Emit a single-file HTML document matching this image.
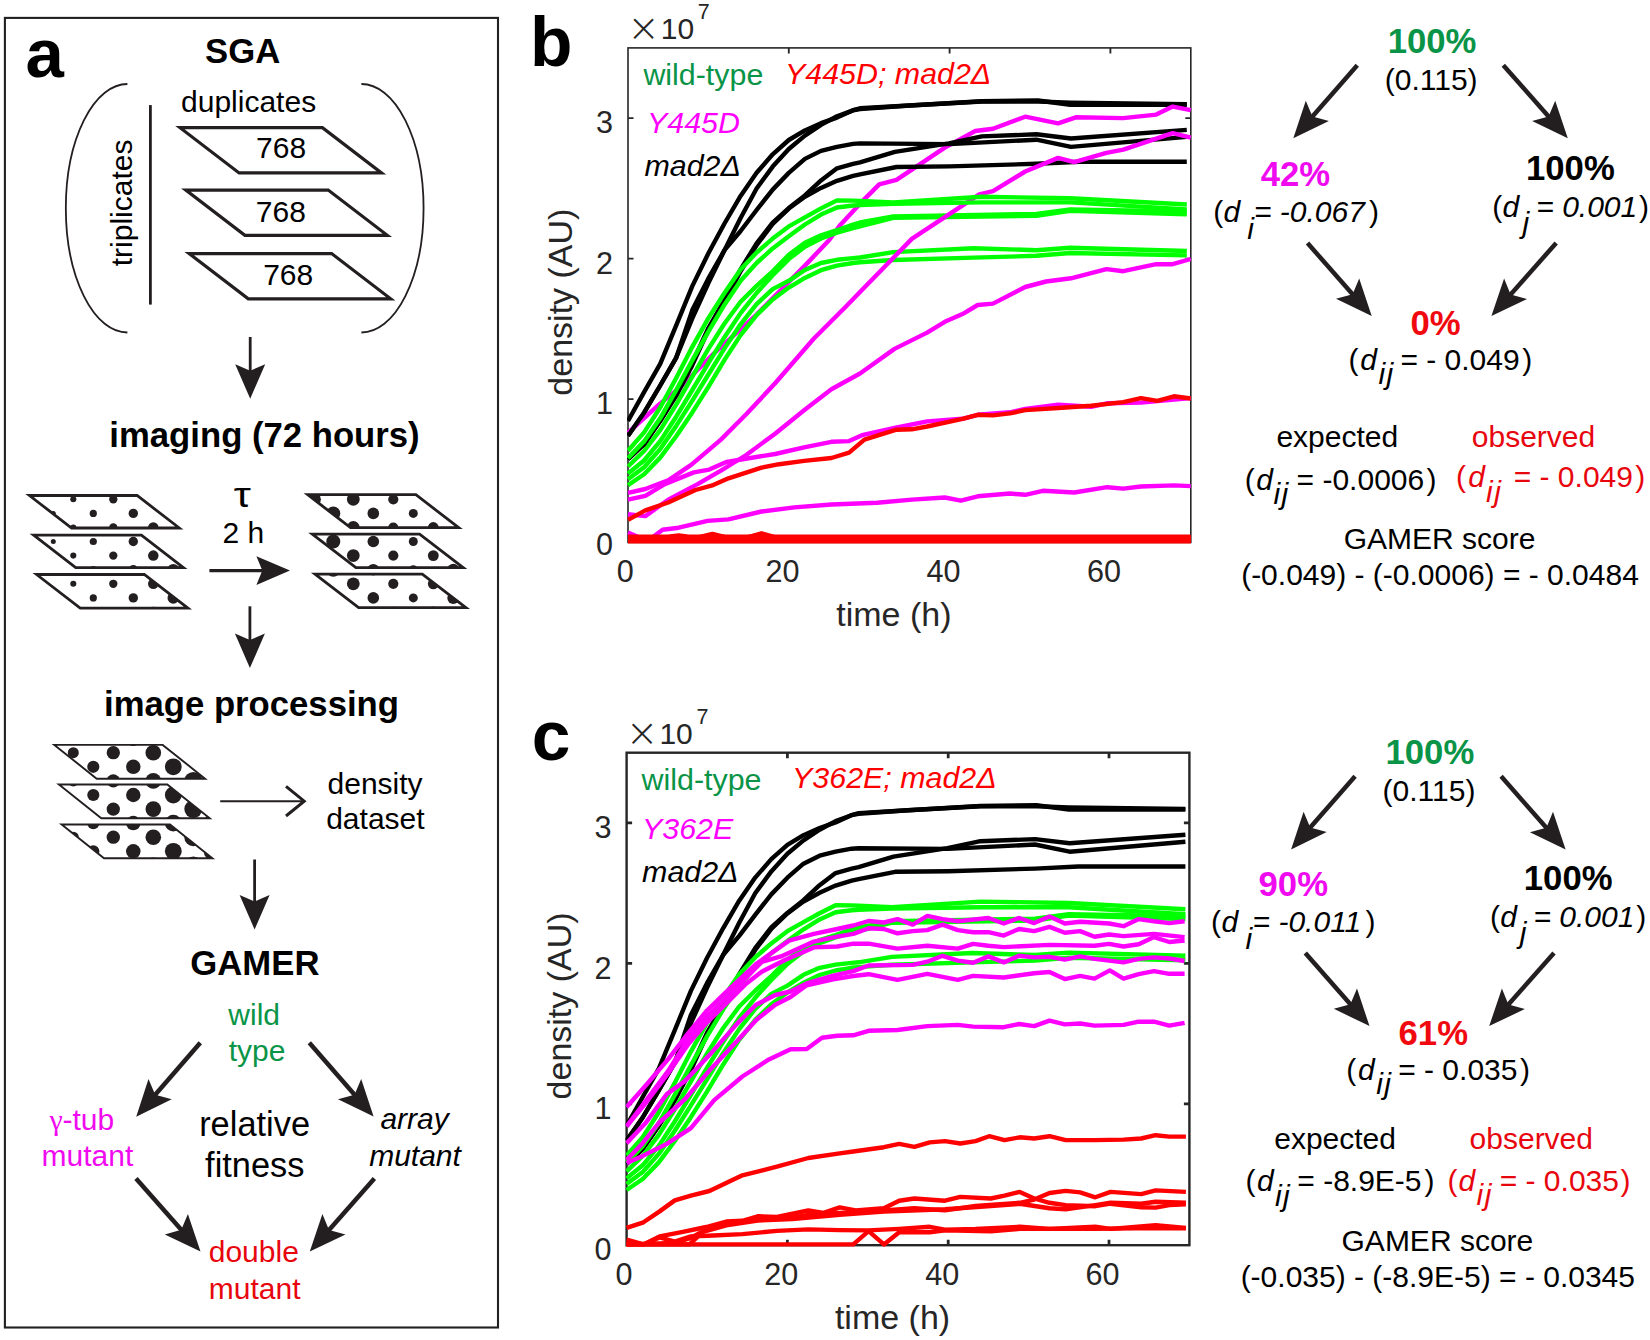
<!DOCTYPE html>
<html lang="en"><head><meta charset="utf-8"><title>GAMER figure</title>
<style>html,body{margin:0;padding:0;background:#fff}svg{display:block}text{font-family:"Liberation Sans",Arial,Helvetica,sans-serif}</style></head>
<body>
<svg width="1650" height="1340" viewBox="0 0 1650 1340">
<rect width="1650" height="1340" fill="#fff"/>
<g id="panel-a">
<rect x="4.9" y="17.9" width="493.1" height="1309.6" fill="none" stroke="#222021" stroke-width="2.1"/>
<text x="25.4" y="76.6" font-size="69" fill="#000" font-weight="bold" >a</text>
<text x="242.7" y="63.1" font-size="34.7" fill="#000" font-weight="bold" text-anchor="middle" >SGA</text>
<path d="M127.4 84 A61.6 124.25 0 0 0 127.4 332.5" fill="none" stroke="#231f20" stroke-width="1.8"/>
<path d="M361.4 84 A62.2 124.25 0 0 1 361.4 332.5" fill="none" stroke="#231f20" stroke-width="1.8"/>
<line x1="150.4" y1="105.1" x2="150.4" y2="304.6" stroke="#231f20" stroke-width="2.8"/>
<text x="248.6" y="112.3" font-size="30" fill="#000" text-anchor="middle" >duplicates</text>
<text transform="translate(131.7 202.9) rotate(-90)" font-size="30" text-anchor="middle">triplicates</text>
<path d="M180.0 127.7h142.4l59.1 45.2h-142.4z" fill="#fff" stroke="#231f20" stroke-width="3.2" stroke-linejoin="miter"/>
<text x="281.1" y="158.1" font-size="30" fill="#000" text-anchor="middle" >768</text>
<path d="M185.8 190.1h142.4l59.1 45.2h-142.4z" fill="#fff" stroke="#231f20" stroke-width="3.2" stroke-linejoin="miter"/>
<text x="280.9" y="221.5" font-size="30" fill="#000" text-anchor="middle" >768</text>
<path d="M189.2 253.6h142.4l59.1 45.2h-142.4z" fill="#fff" stroke="#231f20" stroke-width="3.2" stroke-linejoin="miter"/>
<text x="288.2" y="285.4" font-size="30" fill="#000" text-anchor="middle" >768</text>
<line x1="250.2" y1="337.0" x2="250.2" y2="372.7" stroke="#231f20" stroke-width="2.8"/>
<path d="M250.2 398.7L235.2 364.2L250.2 370.7L265.2 364.2Z" fill="#231f20"/>
<text x="264.5" y="447.0" font-size="34.7" fill="#000" font-weight="bold" text-anchor="middle" >imaging (72 hours)</text>
<clipPath id="pl0"><path d="M29.4 495.5h107.7l42.2 32.5h-107.7z"/></clipPath>
<path d="M29.4 495.5h107.7l42.2 32.5h-107.7z" fill="#fff"/>
<g clip-path="url(#pl0)" fill="#231f20">
<circle cx="53.3" cy="485.2" r="2.50"/>
<circle cx="93.3" cy="485.2" r="3.60"/>
<circle cx="133.3" cy="485.2" r="4.70"/>
<circle cx="173.3" cy="485.2" r="5.80"/>
<circle cx="33.3" cy="499.3" r="1.95"/>
<circle cx="73.3" cy="499.3" r="3.05"/>
<circle cx="113.3" cy="499.3" r="4.15"/>
<circle cx="153.3" cy="499.3" r="5.25"/>
<circle cx="53.3" cy="513.4" r="2.50"/>
<circle cx="93.3" cy="513.4" r="3.60"/>
<circle cx="133.3" cy="513.4" r="4.70"/>
<circle cx="173.3" cy="513.4" r="5.80"/>
<circle cx="33.3" cy="527.5" r="1.95"/>
<circle cx="73.3" cy="527.5" r="3.05"/>
<circle cx="113.3" cy="527.5" r="4.15"/>
<circle cx="153.3" cy="527.5" r="5.25"/>
</g>
<path d="M29.4 495.5h107.7l42.2 32.5h-107.7z" fill="none" stroke="#231f20" stroke-width="2.8"/>
<clipPath id="pl1"><path d="M33.7 535.2h107.7l42.0 32.4h-107.7z"/></clipPath>
<path d="M33.7 535.2h107.7l42.0 32.4h-107.7z" fill="#fff"/>
<g clip-path="url(#pl1)" fill="#231f20">
<circle cx="53.3" cy="513.4" r="2.50"/>
<circle cx="93.3" cy="513.4" r="3.60"/>
<circle cx="133.3" cy="513.4" r="4.70"/>
<circle cx="173.3" cy="513.4" r="5.80"/>
<circle cx="33.3" cy="527.5" r="1.95"/>
<circle cx="73.3" cy="527.5" r="3.05"/>
<circle cx="113.3" cy="527.5" r="4.15"/>
<circle cx="153.3" cy="527.5" r="5.25"/>
<circle cx="193.3" cy="527.5" r="6.35"/>
<circle cx="53.3" cy="541.5" r="2.50"/>
<circle cx="93.3" cy="541.5" r="3.60"/>
<circle cx="133.3" cy="541.5" r="4.70"/>
<circle cx="173.3" cy="541.5" r="5.80"/>
<circle cx="33.3" cy="555.6" r="1.95"/>
<circle cx="73.3" cy="555.6" r="3.05"/>
<circle cx="113.3" cy="555.6" r="4.15"/>
<circle cx="153.3" cy="555.6" r="5.25"/>
<circle cx="193.3" cy="555.6" r="6.35"/>
<circle cx="53.3" cy="569.7" r="2.50"/>
<circle cx="93.3" cy="569.7" r="3.60"/>
<circle cx="133.3" cy="569.7" r="4.70"/>
<circle cx="173.3" cy="569.7" r="5.80"/>
</g>
<path d="M33.7 535.2h107.7l42.0 32.4h-107.7z" fill="none" stroke="#231f20" stroke-width="2.8"/>
<clipPath id="pl2"><path d="M36.6 574.5h107.7l43.6 33.6h-107.7z"/></clipPath>
<path d="M36.6 574.5h107.7l43.6 33.6h-107.7z" fill="#fff"/>
<g clip-path="url(#pl2)" fill="#231f20">
<circle cx="33.3" cy="555.6" r="1.95"/>
<circle cx="73.3" cy="555.6" r="3.05"/>
<circle cx="113.3" cy="555.6" r="4.15"/>
<circle cx="153.3" cy="555.6" r="5.25"/>
<circle cx="193.3" cy="555.6" r="6.35"/>
<circle cx="53.3" cy="569.7" r="2.50"/>
<circle cx="93.3" cy="569.7" r="3.60"/>
<circle cx="133.3" cy="569.7" r="4.70"/>
<circle cx="173.3" cy="569.7" r="5.80"/>
<circle cx="33.3" cy="583.8" r="1.95"/>
<circle cx="73.3" cy="583.8" r="3.05"/>
<circle cx="113.3" cy="583.8" r="4.15"/>
<circle cx="153.3" cy="583.8" r="5.25"/>
<circle cx="193.3" cy="583.8" r="6.35"/>
<circle cx="53.3" cy="597.9" r="2.50"/>
<circle cx="93.3" cy="597.9" r="3.60"/>
<circle cx="133.3" cy="597.9" r="4.70"/>
<circle cx="173.3" cy="597.9" r="5.80"/>
<circle cx="33.3" cy="611.9" r="1.95"/>
<circle cx="73.3" cy="611.9" r="3.05"/>
<circle cx="113.3" cy="611.9" r="4.15"/>
<circle cx="153.3" cy="611.9" r="5.25"/>
<circle cx="193.3" cy="611.9" r="6.35"/>
</g>
<path d="M36.6 574.5h107.7l43.6 33.6h-107.7z" fill="none" stroke="#231f20" stroke-width="2.8"/>
<clipPath id="pr0"><path d="M307.7 494.7h108.2l42.8 33.0h-108.2z"/></clipPath>
<path d="M307.7 494.7h108.2l42.8 33.0h-108.2z" fill="#fff"/>
<g clip-path="url(#pr0)" fill="#231f20">
<circle cx="333.3" cy="485.2" r="6.99"/>
<circle cx="373.3" cy="485.2" r="5.79"/>
<circle cx="413.3" cy="485.2" r="4.51"/>
<circle cx="453.3" cy="485.2" r="6.01"/>
<circle cx="313.3" cy="499.3" r="7.59"/>
<circle cx="353.3" cy="499.3" r="6.39"/>
<circle cx="393.3" cy="499.3" r="5.09"/>
<circle cx="433.3" cy="499.3" r="5.41"/>
<circle cx="333.3" cy="513.4" r="6.99"/>
<circle cx="373.3" cy="513.4" r="5.79"/>
<circle cx="413.3" cy="513.4" r="4.51"/>
<circle cx="453.3" cy="513.4" r="6.01"/>
<circle cx="313.3" cy="527.5" r="7.59"/>
<circle cx="353.3" cy="527.5" r="6.39"/>
<circle cx="393.3" cy="527.5" r="5.09"/>
<circle cx="433.3" cy="527.5" r="5.41"/>
</g>
<path d="M307.7 494.7h108.2l42.8 33.0h-108.2z" fill="none" stroke="#231f20" stroke-width="2.8"/>
<clipPath id="pr1"><path d="M312.3 534.1h107.3l43.6 33.6h-107.3z"/></clipPath>
<path d="M312.3 534.1h107.3l43.6 33.6h-107.3z" fill="#fff"/>
<g clip-path="url(#pr1)" fill="#231f20">
<circle cx="333.3" cy="513.4" r="6.99"/>
<circle cx="373.3" cy="513.4" r="5.79"/>
<circle cx="413.3" cy="513.4" r="4.51"/>
<circle cx="453.3" cy="513.4" r="6.01"/>
<circle cx="313.3" cy="527.5" r="7.59"/>
<circle cx="353.3" cy="527.5" r="6.39"/>
<circle cx="393.3" cy="527.5" r="5.09"/>
<circle cx="433.3" cy="527.5" r="5.41"/>
<circle cx="473.3" cy="527.5" r="6.60"/>
<circle cx="333.3" cy="541.5" r="6.99"/>
<circle cx="373.3" cy="541.5" r="5.79"/>
<circle cx="413.3" cy="541.5" r="4.51"/>
<circle cx="453.3" cy="541.5" r="6.01"/>
<circle cx="313.3" cy="555.6" r="7.59"/>
<circle cx="353.3" cy="555.6" r="6.39"/>
<circle cx="393.3" cy="555.6" r="5.09"/>
<circle cx="433.3" cy="555.6" r="5.41"/>
<circle cx="473.3" cy="555.6" r="6.60"/>
<circle cx="333.3" cy="569.7" r="6.99"/>
<circle cx="373.3" cy="569.7" r="5.79"/>
<circle cx="413.3" cy="569.7" r="4.51"/>
<circle cx="453.3" cy="569.7" r="6.01"/>
</g>
<path d="M312.3 534.1h107.3l43.6 33.6h-107.3z" fill="none" stroke="#231f20" stroke-width="2.8"/>
<clipPath id="pr2"><path d="M315.0 574.1h107.3l43.6 33.6h-107.3z"/></clipPath>
<path d="M315.0 574.1h107.3l43.6 33.6h-107.3z" fill="#fff"/>
<g clip-path="url(#pr2)" fill="#231f20">
<circle cx="313.3" cy="555.6" r="7.59"/>
<circle cx="353.3" cy="555.6" r="6.39"/>
<circle cx="393.3" cy="555.6" r="5.09"/>
<circle cx="433.3" cy="555.6" r="5.41"/>
<circle cx="473.3" cy="555.6" r="6.60"/>
<circle cx="333.3" cy="569.7" r="6.99"/>
<circle cx="373.3" cy="569.7" r="5.79"/>
<circle cx="413.3" cy="569.7" r="4.51"/>
<circle cx="453.3" cy="569.7" r="6.01"/>
<circle cx="313.3" cy="583.8" r="7.59"/>
<circle cx="353.3" cy="583.8" r="6.39"/>
<circle cx="393.3" cy="583.8" r="5.09"/>
<circle cx="433.3" cy="583.8" r="5.41"/>
<circle cx="473.3" cy="583.8" r="6.60"/>
<circle cx="333.3" cy="597.9" r="6.99"/>
<circle cx="373.3" cy="597.9" r="5.79"/>
<circle cx="413.3" cy="597.9" r="4.51"/>
<circle cx="453.3" cy="597.9" r="6.01"/>
<circle cx="313.3" cy="611.9" r="7.59"/>
<circle cx="353.3" cy="611.9" r="6.39"/>
<circle cx="393.3" cy="611.9" r="5.09"/>
<circle cx="433.3" cy="611.9" r="5.41"/>
<circle cx="473.3" cy="611.9" r="6.60"/>
</g>
<path d="M315.0 574.1h107.3l43.6 33.6h-107.3z" fill="none" stroke="#231f20" stroke-width="2.8"/>
<text transform="translate(242.3 506.8) scale(1.2 1)" font-size="36" text-anchor="middle" font-family="'Liberation Serif','DejaVu Serif',serif">τ</text>
<text x="243.4" y="543.3" font-size="30" fill="#000" text-anchor="middle" >2 h</text>
<line x1="209.4" y1="570.6" x2="264.3" y2="570.6" stroke="#231f20" stroke-width="3.4"/>
<path d="M290.0 570.6L256.4 584.9L262.3 570.6L256.4 556.3Z" fill="#231f20"/>
<line x1="249.9" y1="606.3" x2="249.9" y2="642.1" stroke="#231f20" stroke-width="2.8"/>
<path d="M249.9 668.1L234.9 633.6L249.9 640.1L264.9 633.6Z" fill="#231f20"/>
<text x="251.5" y="716.0" font-size="34.7" fill="#000" font-weight="bold" text-anchor="middle" >image processing</text>
<clipPath id="pt0"><path d="M54.3 744.9h108.4l42.4 33.8h-108.4z"/></clipPath>
<path d="M54.3 744.9h108.4l42.4 33.8h-108.4z" fill="#fff"/>
<g clip-path="url(#pt0)" fill="#231f20">
<circle cx="73.3" cy="724.6" r="5.50"/>
<circle cx="113.3" cy="724.6" r="6.66"/>
<circle cx="153.3" cy="724.6" r="7.82"/>
<circle cx="193.3" cy="724.6" r="8.98"/>
<circle cx="53.3" cy="738.7" r="4.92"/>
<circle cx="93.3" cy="738.7" r="6.08"/>
<circle cx="133.3" cy="738.7" r="7.24"/>
<circle cx="173.3" cy="738.7" r="8.40"/>
<circle cx="213.3" cy="738.7" r="9.56"/>
<circle cx="73.3" cy="752.7" r="5.50"/>
<circle cx="113.3" cy="752.7" r="6.66"/>
<circle cx="153.3" cy="752.7" r="7.82"/>
<circle cx="193.3" cy="752.7" r="8.98"/>
<circle cx="53.3" cy="766.8" r="4.92"/>
<circle cx="93.3" cy="766.8" r="6.08"/>
<circle cx="133.3" cy="766.8" r="7.24"/>
<circle cx="173.3" cy="766.8" r="8.40"/>
<circle cx="213.3" cy="766.8" r="9.56"/>
<circle cx="73.3" cy="780.9" r="5.50"/>
<circle cx="113.3" cy="780.9" r="6.66"/>
<circle cx="153.3" cy="780.9" r="7.82"/>
<circle cx="193.3" cy="780.9" r="8.98"/>
</g>
<path d="M54.3 744.9h108.4l42.4 33.8h-108.4z" fill="none" stroke="#231f20" stroke-width="1.9"/>
<clipPath id="pt1"><path d="M58.9 784.5h108.4l42.4 33.8h-108.4z"/></clipPath>
<path d="M58.9 784.5h108.4l42.4 33.8h-108.4z" fill="#fff"/>
<g clip-path="url(#pt1)" fill="#231f20">
<circle cx="53.3" cy="766.8" r="4.92"/>
<circle cx="93.3" cy="766.8" r="6.08"/>
<circle cx="133.3" cy="766.8" r="7.24"/>
<circle cx="173.3" cy="766.8" r="8.40"/>
<circle cx="213.3" cy="766.8" r="9.56"/>
<circle cx="73.3" cy="780.9" r="5.50"/>
<circle cx="113.3" cy="780.9" r="6.66"/>
<circle cx="153.3" cy="780.9" r="7.82"/>
<circle cx="193.3" cy="780.9" r="8.98"/>
<circle cx="53.3" cy="795.0" r="4.92"/>
<circle cx="93.3" cy="795.0" r="6.08"/>
<circle cx="133.3" cy="795.0" r="7.24"/>
<circle cx="173.3" cy="795.0" r="8.40"/>
<circle cx="213.3" cy="795.0" r="9.56"/>
<circle cx="73.3" cy="809.1" r="5.50"/>
<circle cx="113.3" cy="809.1" r="6.66"/>
<circle cx="153.3" cy="809.1" r="7.82"/>
<circle cx="193.3" cy="809.1" r="8.98"/>
<circle cx="53.3" cy="823.1" r="4.92"/>
<circle cx="93.3" cy="823.1" r="6.08"/>
<circle cx="133.3" cy="823.1" r="7.24"/>
<circle cx="173.3" cy="823.1" r="8.40"/>
<circle cx="213.3" cy="823.1" r="9.56"/>
</g>
<path d="M58.9 784.5h108.4l42.4 33.8h-108.4z" fill="none" stroke="#231f20" stroke-width="1.9"/>
<clipPath id="pt2"><path d="M61.6 824.5h108.4l42.4 33.8h-108.4z"/></clipPath>
<path d="M61.6 824.5h108.4l42.4 33.8h-108.4z" fill="#fff"/>
<g clip-path="url(#pt2)" fill="#231f20">
<circle cx="73.3" cy="809.1" r="5.50"/>
<circle cx="113.3" cy="809.1" r="6.66"/>
<circle cx="153.3" cy="809.1" r="7.82"/>
<circle cx="193.3" cy="809.1" r="8.98"/>
<circle cx="53.3" cy="823.1" r="4.92"/>
<circle cx="93.3" cy="823.1" r="6.08"/>
<circle cx="133.3" cy="823.1" r="7.24"/>
<circle cx="173.3" cy="823.1" r="8.40"/>
<circle cx="213.3" cy="823.1" r="9.56"/>
<circle cx="73.3" cy="837.2" r="5.50"/>
<circle cx="113.3" cy="837.2" r="6.66"/>
<circle cx="153.3" cy="837.2" r="7.82"/>
<circle cx="193.3" cy="837.2" r="8.98"/>
<circle cx="53.3" cy="851.3" r="4.92"/>
<circle cx="93.3" cy="851.3" r="6.08"/>
<circle cx="133.3" cy="851.3" r="7.24"/>
<circle cx="173.3" cy="851.3" r="8.40"/>
<circle cx="213.3" cy="851.3" r="9.56"/>
<circle cx="73.3" cy="865.4" r="5.50"/>
<circle cx="113.3" cy="865.4" r="6.66"/>
<circle cx="153.3" cy="865.4" r="7.82"/>
<circle cx="193.3" cy="865.4" r="8.98"/>
</g>
<path d="M61.6 824.5h108.4l42.4 33.8h-108.4z" fill="none" stroke="#231f20" stroke-width="1.9"/>
<line x1="220.2" y1="801.2" x2="302.5" y2="801.2" stroke="#231f20" stroke-width="2.1"/>
<path d="M286 786.4 L304.2 801.2 L286 816" fill="none" stroke="#231f20" stroke-width="3"/>
<text x="375.1" y="793.9" font-size="30" fill="#000" text-anchor="middle" >density</text>
<text x="375.4" y="828.9" font-size="30" fill="#000" text-anchor="middle" >dataset</text>
<line x1="254.6" y1="859.5" x2="254.6" y2="903.4" stroke="#231f20" stroke-width="2.8"/>
<path d="M254.6 929.4L239.6 894.9L254.6 901.4L269.6 894.9Z" fill="#231f20"/>
<text x="254.9" y="975.0" font-size="34.7" fill="#000" font-weight="bold" text-anchor="middle" >GAMER</text>
<text x="254.2" y="1024.5" font-size="30" fill="#0a9447" text-anchor="middle" >wild</text>
<text x="257.0" y="1060.6" font-size="30" fill="#0a9447" text-anchor="middle" >type</text>
<text x="49.6" y="1129.7" font-size="30" fill="#f00af0"><tspan font-family="'Liberation Serif',serif" font-size="30">γ</tspan><tspan x="62.4">-tub</tspan></text>
<text x="87.4" y="1166.0" font-size="30" fill="#f00af0" text-anchor="middle" >mutant</text>
<text x="254.6" y="1136.3" font-size="34.4" fill="#000" text-anchor="middle" >relative</text>
<text x="254.8" y="1176.5" font-size="34.4" fill="#000" text-anchor="middle" >fitness</text>
<text x="414.6" y="1128.8" font-size="30" fill="#000" font-style="italic" text-anchor="middle" >array</text>
<text x="415.0" y="1165.5" font-size="30" fill="#000" font-style="italic" text-anchor="middle" >mutant</text>
<text x="253.8" y="1261.5" font-size="30" fill="#e8060e" text-anchor="middle" >double</text>
<text x="254.7" y="1298.5" font-size="30" fill="#e8060e" text-anchor="middle" >mutant</text>
<line x1="200.3" y1="1042.8" x2="153.9" y2="1096.3" stroke="#231f20" stroke-width="4.5"/>
<path d="M136.2 1116.7L148.5 1079.0L155.2 1094.8L171.7 1099.2Z" fill="#231f20"/>
<line x1="309.3" y1="1042.8" x2="355.9" y2="1096.2" stroke="#231f20" stroke-width="4.5"/>
<path d="M373.6 1116.6L338.0 1099.2L354.5 1094.7L361.2 1079.0Z" fill="#231f20"/>
<line x1="136.0" y1="1178.4" x2="182.6" y2="1231.3" stroke="#231f20" stroke-width="4.5"/>
<path d="M200.5 1251.6L164.8 1234.4L181.3 1229.8L187.9 1214.0Z" fill="#231f20"/>
<line x1="374.4" y1="1178.4" x2="327.7" y2="1231.4" stroke="#231f20" stroke-width="4.5"/>
<path d="M309.8 1251.6L322.4 1214.0L329.0 1229.9L345.5 1234.4Z" fill="#231f20"/>
</g>
<g id="chart-b">
<clipPath id="chart-bc"><rect x="627.0" y="47.9" width="564.8" height="497.5"/></clipPath>
<rect x="628.0" y="47.9" width="562.8" height="494.5" fill="#fff" stroke="#262626" stroke-width="1.6"/>
<path d="M788.8 542.4v-5.5M788.8 47.9v5.5" stroke="#262626" stroke-width="1.84"/>
<path d="M949.6 542.4v-5.5M949.6 47.9v5.5" stroke="#262626" stroke-width="1.84"/>
<path d="M1110.4 542.4v-5.5M1110.4 47.9v5.5" stroke="#262626" stroke-width="1.84"/>
<path d="M628.0 399.1h5.5M1190.8 399.1h-5.5" stroke="#262626" stroke-width="1.84"/>
<path d="M628.0 258.6h5.5M1190.8 258.6h-5.5" stroke="#262626" stroke-width="1.84"/>
<path d="M628.0 118.1h5.5M1190.8 118.1h-5.5" stroke="#262626" stroke-width="1.84"/>
<g clip-path="url(#chart-bc)" fill="none" stroke-width="4.4" stroke-linejoin="round">
<polyline points="628.0,420.9 644.1,392.2 660.2,363.8 676.2,325.3 692.3,286.1 708.4,253.2 724.5,223.5 740.6,195.9 756.6,172.8 772.7,154.3 788.8,140.0 804.9,130.4 821.0,123.2 837.0,117.6 853.1,110.2 860.0,108.3 909.4,105.5 981.8,101.5 1038.0,101.5 1070.2,102.6 1186.8,104.1" stroke="#000000"/>
<polyline points="628.0,435.8 644.1,412.7 660.2,385.5 676.2,357.8 692.3,310.1 708.4,278.4 724.5,250.2 740.6,218.0 756.6,188.5 772.7,166.6 788.8,149.0 804.9,135.6 821.0,124.9 837.0,116.3 853.1,110.4 860.0,109.0 909.4,105.5 981.8,101.2 1038.0,100.5 1070.2,104.8 1186.8,104.8" stroke="#000000"/>
<polyline points="628.0,432.8 658.9,404.6 680.3,387.2 713.2,354.1 755.8,315.4 780.8,290.1 804.9,265.6 829.0,240.3 840.3,224.9 861.2,202.4 879.2,184.4 896.5,179.9 944.8,147.6 975.3,131.0 993.0,128.8 1025.2,116.7 1058.1,123.4 1075.8,117.3 1123.3,118.1 1156.2,114.6 1172.7,106.6 1190.8,110.2" stroke="#ff00ff"/>
<polyline points="628.0,466.5 644.1,451.0 660.2,430.1 676.2,404.6 692.3,376.6 708.4,348.9 724.5,323.5 740.6,301.7 756.6,285.9 772.7,271.4 788.8,254.8 804.9,242.7 821.0,235.3 837.0,230.2 853.1,224.5 860.0,222.5 893.3,216.5 1036.4,213.9 1070.2,209.4 1186.8,211.5" stroke="#00ff00"/>
<polyline points="628.0,473.6 644.1,460.5 660.2,441.1 676.2,416.7 692.3,390.0 708.4,363.1 724.5,337.2 740.6,313.1 756.6,293.0 772.7,275.2 788.8,259.1 804.9,246.8 821.0,238.5 837.0,232.7 853.1,228.1 860.0,226.3 893.3,217.9 1036.4,215.7 1070.2,210.8 1186.8,214.3" stroke="#00ff00"/>
<polyline points="628.0,479.2 644.1,467.3 660.2,449.1 676.2,425.9 692.3,400.6 708.4,374.5 724.5,348.4 740.6,324.3 756.6,304.1 772.7,289.1 788.8,280.8 804.9,270.0 821.0,263.0 837.0,259.8 853.1,258.1 860.0,257.5 893.3,252.1 973.7,248.2 1036.4,250.2 1070.2,247.8 1186.8,251.0" stroke="#00ff00"/>
<polyline points="628.0,485.2 644.1,474.2 660.2,457.6 676.2,436.2 692.3,412.4 708.4,386.9 724.5,359.9 740.6,335.1 756.6,315.1 772.7,299.5 788.8,287.6 804.9,277.9 821.0,270.2 837.0,265.7 853.1,263.0 860.0,262.3 893.3,260.0 973.7,257.6 1036.4,255.8 1070.2,253.0 1186.8,255.4" stroke="#00ff00"/>
<polyline points="628.0,435.8 644.1,412.7 660.2,385.5 676.2,357.7 692.3,318.4 708.4,283.0 724.5,250.2 740.6,231.0 756.6,210.0 772.7,189.6 788.8,172.9 804.9,158.9 821.0,150.9 837.0,146.8 853.1,143.9 860.0,143.4 949.6,144.1 1036.4,139.7 1071.0,146.9 1186.8,136.9" stroke="#000000"/>
<polyline points="628.0,459.1 644.1,444.1 660.2,420.5 676.2,394.8 692.3,363.0 708.4,328.0 724.5,300.2 740.6,269.3 756.6,243.3 772.7,222.6 788.8,208.1 804.9,195.4 821.0,180.4 837.0,168.3 853.1,163.9 860.0,162.4 894.9,151.8 948.8,143.4 981.8,136.4 1036.4,134.3 1071.0,138.5 1186.8,129.9" stroke="#000000"/>
<polyline points="628.0,459.1 644.1,444.2 660.2,421.1 676.2,395.6 692.3,365.2 708.4,330.0 724.5,302.2 740.6,271.3 756.6,245.2 772.7,224.0 788.8,208.6 804.9,196.8 821.0,187.9 837.0,180.8 853.1,175.9 860.0,174.3 896.5,167.0 949.6,166.4 1036.4,163.8 1079.8,161.7 1186.8,161.7" stroke="#000000"/>
<polyline points="628.0,492.8 645.3,489.0 668.2,480.3 691.5,464.7 720.9,439.6 746.2,414.3 775.1,383.2 813.7,338.7 846.7,305.7 860.0,292.0 911.8,238.9 944.8,217.2 979.3,194.3 993.0,191.2 1025.2,171.5 1058.1,157.9 1074.2,162.2 1106.4,152.8 1123.3,149.6 1172.7,133.1 1190.8,137.6" stroke="#ff00ff"/>
<polyline points="628.0,450.7 644.1,432.4 660.2,407.5 676.2,378.0 692.3,346.8 708.4,318.1 724.5,293.0 740.6,269.4 756.6,252.6 772.7,238.6 788.8,226.4 804.9,217.3 821.0,208.4 837.0,200.4 853.1,200.6 860.0,201.0 893.3,202.4 981.8,196.8 1070.2,198.2 1186.8,204.5" stroke="#00ff00"/>
<polyline points="628.0,458.1 644.1,441.4 660.2,418.3 676.2,390.1 692.3,360.4 708.4,331.6 724.5,304.7 740.6,280.7 756.6,263.0 772.7,248.4 788.8,236.2 804.9,224.5 821.0,214.6 837.0,207.5 853.1,205.5 860.0,205.1 893.3,203.8 981.8,202.4 1070.2,202.4 1186.8,209.4" stroke="#00ff00"/>
<polyline points="628.0,514.3 645.3,516.1 668.2,499.7 697.6,484.1 720.9,470.6 746.2,455.0 775.1,433.7 804.1,410.3 831.4,389.3 860.0,373.5 894.5,348.9 927.1,332.6 944.8,321.8 962.5,314.1 977.7,305.0 993.0,303.6 1025.2,287.0 1046.1,281.5 1071.0,278.3 1106.4,269.1 1123.3,271.2 1156.2,264.2 1172.7,264.2 1190.8,259.0" stroke="#ff00ff"/>
<polyline points="628.0,499.7 645.3,495.8 664.7,484.1 693.9,472.4 709.2,469.6 726.9,461.8 744.2,459.0 775.1,454.0 804.1,447.3 831.4,441.8 849.1,441.1 862.0,435.2 894.5,428.0 927.1,421.4 962.5,418.8 977.7,414.8 1009.9,412.3 1025.2,408.9 1058.1,404.7 1091.1,406.8 1108.0,403.2 1141.0,402.6 1190.8,398.1" stroke="#ff00ff"/>
<polyline points="628.0,532.6 639.3,537.5 651.3,538.2 662.6,529.8 678.7,527.7 707.6,520.9 728.5,519.4 761.5,511.5 794.4,507.4 831.4,504.5 877.2,502.8 911.8,499.6 944.8,497.5 960.9,500.7 977.7,496.3 1009.9,493.5 1025.2,494.8 1042.9,490.8 1074.2,492.5 1107.2,487.2 1123.3,488.6 1141.0,486.5 1173.9,485.4 1190.8,486.1" stroke="#ff00ff"/>
<polyline points="628.0,519.9 645.3,510.4 668.2,502.5 695.5,490.0 713.2,485.1 728.5,478.3 761.5,467.7 779.2,464.2 804.1,460.9 831.4,458.0 849.1,452.6 864.4,439.6 896.5,429.7 911.8,429.3 927.1,426.5 962.5,418.8 977.7,414.8 993.0,415.4 1009.9,413.4 1025.2,410.1 1058.1,408.0 1091.1,405.7 1123.3,402.1 1141.0,398.1 1157.4,400.9 1173.9,396.3 1190.8,398.5" stroke="#ff0000"/>
<polyline points="628.0,537.9 668.2,537.9 696.3,537.9 712.4,534.0 728.5,537.9 745.4,537.9 761.5,533.3 777.5,537.9 1190.8,537.9" stroke="#ff0000"/>
<polyline points="628.0,541.3 1190.8,541.3" stroke="#ff0000"/>
<polyline points="628.0,539.6 696.3,539.6 712.4,536.5 728.5,539.6 745.4,539.6 761.5,535.9 777.5,539.6 1190.8,539.6" stroke="#ff0000"/>
<polyline points="628.0,536.8 668.2,536.8 678.7,535.4 688.3,536.8 1190.8,536.8" stroke="#ff0000"/>
</g>
<text x="625.3" y="582.2" font-size="30.6" fill="#262626" text-anchor="middle" >0</text>
<text x="782.6" y="582.2" font-size="30.6" fill="#262626" text-anchor="middle" >20</text>
<text x="943.6" y="582.2" font-size="30.6" fill="#262626" text-anchor="middle" >40</text>
<text x="1104.0" y="582.2" font-size="30.6" fill="#262626" text-anchor="middle" >60</text>
<text x="612.9" y="554.9" font-size="30.6" fill="#262626" text-anchor="end" >0</text>
<text x="612.9" y="414.4" font-size="30.6" fill="#262626" text-anchor="end" >1</text>
<text x="612.9" y="273.9" font-size="30.6" fill="#262626" text-anchor="end" >2</text>
<text x="612.9" y="133.4" font-size="30.6" fill="#262626" text-anchor="end" >3</text>
<text font-size="30" fill="#262626"><tspan x="627.2" y="41.4" font-family="'DejaVu Sans Light','DejaVu Sans',sans-serif" font-weight="200" font-size="39">×</tspan><tspan x="660.8" y="39.3">10</tspan></text>
<text x="697.8" y="19.4" font-size="21.5" fill="#262626" >7</text>
<text x="893.9" y="625.7" font-size="34" fill="#262626" text-anchor="middle" >time (h)</text>
<text transform="translate(572.0 302.1) rotate(-90)" font-size="34" fill="#262626" text-anchor="middle">density (AU)</text>
<text x="643.4" y="84.9" font-size="30.4" fill="#0a9447" >wild-type</text>
<text x="647.0" y="132.7" font-size="30.4" fill="#ff00ff" font-style="italic" >Y445D</text>
<text x="644.5" y="176.1" font-size="30.4" fill="#000" font-style="italic" >mad2Δ</text>
<text x="785.0" y="84.3" font-size="30.4" fill="#ff0000" font-style="italic" >Y445D; mad2Δ</text>
</g>
<g id="chart-c">
<clipPath id="chart-cc"><rect x="625.6" y="752.7" width="564.8" height="495.5"/></clipPath>
<rect x="626.6" y="752.7" width="562.8" height="492.5" fill="#fff" stroke="#262626" stroke-width="2.4"/>
<path d="M787.4 1245.2v-5.5M787.4 752.7v5.5" stroke="#262626" stroke-width="2.76"/>
<path d="M948.2 1245.2v-5.5M948.2 752.7v5.5" stroke="#262626" stroke-width="2.76"/>
<path d="M1109.0 1245.2v-5.5M1109.0 752.7v5.5" stroke="#262626" stroke-width="2.76"/>
<path d="M626.6 1103.9h5.5M1189.4 1103.9h-5.5" stroke="#262626" stroke-width="2.76"/>
<path d="M626.6 963.4h5.5M1189.4 963.4h-5.5" stroke="#262626" stroke-width="2.76"/>
<path d="M626.6 822.9h5.5M1189.4 822.9h-5.5" stroke="#262626" stroke-width="2.76"/>
<g clip-path="url(#chart-cc)" fill="none" stroke-width="4.4" stroke-linejoin="round">
<polyline points="626.6,1125.7 642.7,1097.0 658.8,1068.6 674.8,1030.1 690.9,990.9 707.0,958.0 723.1,928.3 739.2,900.7 755.2,877.6 771.3,859.1 787.4,844.8 803.5,835.2 819.6,828.0 835.6,822.4 851.7,815.0 858.6,813.1 908.0,810.3 980.4,806.3 1036.6,806.3 1068.8,807.4 1185.4,808.9" stroke="#000000"/>
<polyline points="626.6,1140.6 642.7,1117.5 658.8,1090.3 674.8,1062.6 690.9,1014.9 707.0,983.2 723.1,955.0 739.2,922.8 755.2,893.3 771.3,871.4 787.4,853.8 803.5,840.4 819.6,829.7 835.6,821.1 851.7,815.2 858.6,813.8 908.0,810.3 980.4,806.0 1036.6,805.3 1068.8,809.6 1185.4,809.6" stroke="#000000"/>
<polyline points="626.6,1140.6 642.7,1117.5 658.8,1090.3 674.8,1062.5 690.9,1023.2 707.0,987.8 723.1,955.0 739.2,935.8 755.2,914.8 771.3,894.4 787.4,877.7 803.5,863.7 819.6,855.7 835.6,851.6 851.7,848.7 858.6,848.2 948.2,848.9 1035.0,844.5 1069.6,851.7 1185.4,841.7" stroke="#000000"/>
<polyline points="626.6,1163.9 642.7,1148.9 658.8,1125.3 674.8,1099.6 690.9,1067.8 707.0,1032.8 723.1,1005.0 739.2,974.1 755.2,948.1 771.3,927.4 787.4,912.9 803.5,900.2 819.6,885.2 835.6,873.1 851.7,868.7 858.6,867.2 893.5,856.6 947.4,848.2 980.4,841.2 1035.0,839.1 1069.6,843.3 1185.4,834.7" stroke="#000000"/>
<polyline points="626.6,1163.9 642.7,1149.0 658.8,1125.9 674.8,1100.4 690.9,1070.0 707.0,1034.8 723.1,1007.0 739.2,976.1 755.2,950.0 771.3,928.8 787.4,913.4 803.5,901.6 819.6,892.7 835.6,885.6 851.7,880.7 858.6,879.1 895.1,871.8 948.2,871.2 1035.0,868.6 1078.4,866.5 1185.4,866.5" stroke="#000000"/>
<polyline points="626.6,1155.5 642.7,1137.2 658.8,1112.3 674.8,1082.8 690.9,1051.6 707.0,1022.9 723.1,997.8 739.2,974.2 755.2,957.4 771.3,943.4 787.4,931.2 803.5,922.1 819.6,913.2 835.6,905.2 851.7,905.4 858.6,905.8 891.9,907.2 980.4,901.6 1068.8,903.0 1185.4,909.3" stroke="#00ff00"/>
<polyline points="626.6,1162.9 642.7,1146.2 658.8,1123.1 674.8,1094.9 690.9,1065.2 707.0,1036.4 723.1,1009.5 739.2,985.5 755.2,967.8 771.3,953.2 787.4,941.0 803.5,929.3 819.6,919.4 835.6,912.3 851.7,910.3 858.6,909.9 891.9,908.6 980.4,907.2 1068.8,907.2 1185.4,914.2" stroke="#00ff00"/>
<polyline points="626.6,1171.3 642.7,1155.8 658.8,1134.9 674.8,1109.4 690.9,1081.4 707.0,1053.7 723.1,1028.3 739.2,1006.5 755.2,990.7 771.3,976.2 787.4,959.6 803.5,947.5 819.6,940.1 835.6,935.0 851.7,929.3 858.6,927.3 891.9,921.3 1035.0,918.7 1068.8,914.2 1185.4,916.3" stroke="#00ff00"/>
<polyline points="626.6,1178.4 642.7,1165.3 658.8,1145.9 674.8,1121.5 690.9,1094.8 707.0,1067.9 723.1,1042.0 739.2,1017.9 755.2,997.8 771.3,980.0 787.4,963.9 803.5,951.6 819.6,943.3 835.6,937.5 851.7,932.9 858.6,931.1 891.9,922.7 1035.0,920.5 1068.8,915.6 1185.4,919.1" stroke="#00ff00"/>
<polyline points="626.6,1184.0 642.7,1172.1 658.8,1153.9 674.8,1130.7 690.9,1105.4 707.0,1079.3 723.1,1053.2 739.2,1029.1 755.2,1008.9 771.3,993.9 787.4,985.6 803.5,974.8 819.6,967.8 835.6,964.6 851.7,962.9 858.6,962.3 891.9,956.9 972.3,953.0 1035.0,955.0 1068.8,952.6 1185.4,955.8" stroke="#00ff00"/>
<polyline points="626.6,1190.0 642.7,1179.0 658.8,1162.4 674.8,1141.0 690.9,1117.2 707.0,1091.7 723.1,1064.7 739.2,1039.9 755.2,1019.9 771.3,1004.3 787.4,992.4 803.5,982.7 819.6,975.0 835.6,970.5 851.7,967.8 858.6,967.1 891.9,964.8 972.3,962.4 1035.0,960.6 1068.8,957.8 1185.4,960.2" stroke="#00ff00"/>
<polyline points="626.6,1107.1 645.1,1086.2 668.4,1058.9 687.7,1033.8 707.0,1010.5 727.1,991.1 756.0,964.0 789.0,940.6 813.9,933.9 837.2,929.0 853.3,925.5 868.6,921.0 883.9,922.5 897.5,919.1 912.8,924.6 927.3,915.9 942.6,919.1 957.8,921.3 988.4,918.0 1003.7,923.5 1019.0,918.0 1034.2,923.1 1049.5,916.6 1064.8,923.5 1080.1,921.8 1109.0,923.5 1123.5,926.2 1138.7,919.1 1154.0,921.3 1169.3,923.1 1184.6,921.3" stroke="#ff00ff"/>
<polyline points="626.6,1126.4 645.1,1101.7 668.4,1070.6 687.7,1039.6 707.0,1016.4 727.1,997.0 746.4,977.5 761.7,962.0 781.0,956.4 813.9,941.6 837.2,936.7 853.3,933.9 868.6,928.3 883.9,929.0 897.5,933.3 912.8,931.1 927.3,930.1 942.6,924.6 957.8,930.1 973.1,932.2 988.4,932.2 1003.7,935.6 1019.0,929.0 1034.2,931.1 1049.5,926.9 1064.8,932.8 1080.1,931.1 1094.5,936.7 1109.0,934.5 1123.5,936.1 1154.0,933.9 1184.6,937.1" stroke="#ff00ff"/>
<polyline points="626.6,1126.4 645.1,1103.9 668.4,1073.0 687.7,1044.9 707.0,1022.4 727.1,1002.7 746.4,983.4 761.7,971.7 785.0,960.0 813.9,947.4 837.2,946.5 853.3,943.7 868.6,943.7 897.5,948.6 927.3,945.8 957.8,948.6 973.1,943.9 988.4,945.8 1003.7,947.1 1049.5,944.9 1094.5,945.8 1109.0,943.9 1123.5,946.5 1138.7,944.3 1154.0,937.1 1169.3,942.0 1184.6,940.5" stroke="#ff00ff"/>
<polyline points="626.6,1143.2 645.1,1123.6 666.8,1094.1 684.5,1081.4 709.4,1055.1 736.7,1024.1 756.0,1004.7 775.3,995.0 790.6,991.5 806.7,983.4 833.2,975.6 853.3,971.1 868.6,965.5 912.8,964.9 927.3,961.7 942.6,955.8 957.8,960.6 973.1,962.8 988.4,956.4 1003.7,962.4 1019.0,955.8 1034.2,957.4 1049.5,956.8 1064.8,959.6 1080.1,956.4 1094.5,958.9 1123.5,962.4 1138.7,958.9 1154.0,957.4 1169.3,958.5 1184.6,961.0" stroke="#ff00ff"/>
<polyline points="626.6,1160.1 642.7,1143.2 658.8,1123.0 684.5,1099.7 709.4,1070.6 736.7,1041.5 756.0,1020.2 775.3,1004.7 790.6,997.0 806.7,985.3 833.2,979.4 853.3,976.0 868.6,974.2 897.5,979.8 927.3,973.8 957.8,979.8 973.1,975.9 1003.7,977.5 1034.2,973.2 1049.5,972.0 1064.8,979.1 1080.1,975.9 1094.5,978.6 1109.8,970.4 1123.5,978.6 1138.7,974.2 1154.0,971.1 1169.3,973.8 1184.6,973.8" stroke="#ff00ff"/>
<polyline points="626.6,1162.9 642.7,1155.9 666.8,1143.9 690.9,1128.2 714.2,1100.1 742.4,1076.5 768.9,1059.4 790.6,1049.2 806.7,1049.0 822.0,1037.7 837.2,1035.8 853.3,1035.3 868.6,1030.8 897.5,1030.0 927.3,1026.1 957.8,1024.9 973.1,1026.6 1003.7,1027.2 1019.0,1024.0 1034.2,1026.1 1049.5,1020.6 1064.8,1024.4 1080.1,1023.5 1094.5,1025.6 1123.5,1024.9 1138.7,1021.7 1154.0,1021.7 1169.3,1025.6 1184.6,1022.8" stroke="#ff00ff"/>
<polyline points="626.6,1227.8 643.5,1222.3 659.6,1211.4 674.8,1200.4 690.9,1195.6 709.4,1191.0 742.4,1175.3 776.9,1166.7 808.3,1158.0 839.7,1153.4 853.3,1151.5 883.9,1147.2 899.2,1143.9 914.4,1146.8 929.7,1142.4 945.0,1141.1 960.3,1143.5 975.5,1141.1 989.2,1136.2 1004.5,1140.1 1019.8,1137.3 1034.2,1138.5 1049.5,1136.2 1065.6,1140.1 1095.3,1140.1 1123.5,1139.6 1141.2,1138.5 1155.6,1135.2 1169.3,1136.6 1185.9,1136.6" stroke="#ff0000"/>
<polyline points="626.6,1244.4 643.5,1244.4 659.6,1236.4 682.9,1231.8 706.2,1227.0 726.3,1221.5 742.4,1220.8 757.7,1216.3 776.9,1217.0 808.3,1210.5 823.6,1212.9 839.7,1207.4 855.7,1210.4 883.9,1208.3 899.2,1200.7 914.4,1198.5 945.0,1200.7 960.3,1196.9 990.8,1198.5 1004.5,1195.6 1019.8,1191.9 1034.2,1198.5 1049.5,1202.8 1065.6,1205.1 1095.3,1206.2 1110.6,1203.7 1141.2,1207.2 1155.6,1207.6 1169.3,1205.1 1185.9,1204.4" stroke="#ff0000"/>
<polyline points="626.6,1244.4 674.8,1243.0 690.9,1237.9 707.8,1228.5 726.3,1223.9 757.7,1219.1 792.2,1217.7 808.3,1214.9 839.7,1212.9 855.7,1212.1 883.9,1210.4 914.4,1208.3 945.0,1210.4 975.5,1206.0 1019.8,1202.8 1034.2,1199.6 1049.5,1193.0 1065.6,1190.9 1080.1,1192.4 1095.3,1197.3 1110.6,1191.9 1141.2,1194.1 1155.6,1190.4 1185.9,1191.9" stroke="#ff0000"/>
<polyline points="626.6,1244.4 689.3,1244.4 703.0,1231.8 726.3,1225.4 757.7,1220.5 792.2,1219.1 839.7,1214.9 883.9,1211.5 945.0,1209.3 990.8,1206.0 1019.8,1203.8 1049.5,1208.3 1065.6,1209.3 1095.3,1205.1 1110.6,1202.8 1141.2,1203.8 1155.6,1201.7 1185.9,1202.8" stroke="#ff0000"/>
<polyline points="626.6,1239.5 643.5,1244.4 659.6,1237.4 674.8,1241.6 690.9,1236.4 707.8,1235.7 742.4,1234.1 776.9,1230.9 808.3,1229.4 839.7,1230.1 867.8,1230.4 899.2,1228.9 929.7,1226.8 945.0,1229.6 975.5,1228.9 1019.8,1226.8 1049.5,1228.9 1095.3,1226.8 1110.6,1228.9 1155.6,1225.3 1185.9,1228.0" stroke="#ff0000"/>
<polyline points="626.6,1244.4 853.3,1244.4 868.6,1231.2 883.9,1244.4 899.2,1232.3 929.7,1232.3 945.0,1230.4 990.8,1231.2 1019.8,1228.9 1095.3,1228.9 1155.6,1228.0 1185.9,1228.4" stroke="#ff0000"/>
</g>
<text x="623.9" y="1285.0" font-size="30.6" fill="#262626" text-anchor="middle" >0</text>
<text x="781.2" y="1285.0" font-size="30.6" fill="#262626" text-anchor="middle" >20</text>
<text x="942.2" y="1285.0" font-size="30.6" fill="#262626" text-anchor="middle" >40</text>
<text x="1102.6" y="1285.0" font-size="30.6" fill="#262626" text-anchor="middle" >60</text>
<text x="611.5" y="1259.7" font-size="30.6" fill="#262626" text-anchor="end" >0</text>
<text x="611.5" y="1119.2" font-size="30.6" fill="#262626" text-anchor="end" >1</text>
<text x="611.5" y="978.7" font-size="30.6" fill="#262626" text-anchor="end" >2</text>
<text x="611.5" y="838.2" font-size="30.6" fill="#262626" text-anchor="end" >3</text>
<text font-size="30" fill="#262626"><tspan x="625.8" y="746.2" font-family="'DejaVu Sans Light','DejaVu Sans',sans-serif" font-weight="200" font-size="39">×</tspan><tspan x="659.4" y="744.1">10</tspan></text>
<text x="696.4" y="724.2" font-size="21.5" fill="#262626" >7</text>
<text x="892.5" y="1328.5" font-size="34" fill="#262626" text-anchor="middle" >time (h)</text>
<text transform="translate(570.6 1005.9) rotate(-90)" font-size="34" fill="#262626" text-anchor="middle">density (AU)</text>
<text x="641.6" y="789.7" font-size="30.4" fill="#0a9447" >wild-type</text>
<text x="642.0" y="839.0" font-size="30.4" fill="#ff00ff" font-style="italic" >Y362E</text>
<text x="642.1" y="882.1" font-size="30.4" fill="#000" font-style="italic" >mad2Δ</text>
<text x="792.1" y="787.7" font-size="30.4" fill="#ff0000" font-style="italic" >Y362E; mad2Δ</text>
</g>
<text x="530.1" y="65.6" font-size="69.5" fill="#000" font-weight="bold" >b</text>
<text x="531.7" y="759.7" font-size="69.5" fill="#000" font-weight="bold" >c</text>
<g>
<text x="1432.1" y="53.0" font-size="34.7" fill="#0a9447" font-weight="bold" text-anchor="middle" >100%</text>
<text x="1431.2" y="89.8" font-size="30" fill="#000" text-anchor="middle" >(0.115)</text>
<text x="1295.5" y="185.5" font-size="34.7" fill="#f00af0" font-weight="bold" text-anchor="middle" >42%</text>
<text x="1570.4" y="179.5" font-size="34.7" fill="#000" font-weight="bold" text-anchor="middle" >100%</text>
<text x="1435.5" y="334.5" font-size="34.7" fill="#f00a10" font-weight="bold" text-anchor="middle" >0%</text>
<text font-size="30" fill="#000"><tspan x="1213.2" y="222.3">(</tspan><tspan x="1223.5" y="222.3" font-style="italic">d</tspan><tspan x="1247.3" y="238.6" font-style="italic">i</tspan><tspan x="1254.0" y="222.3" font-style="italic">= -0.067</tspan><tspan x="1368.9" y="222.3">)</tspan></text>
<text font-size="30" fill="#000"><tspan x="1492.2" y="217.2">(</tspan><tspan x="1502.5" y="217.2" font-style="italic">d</tspan><tspan x="1522.4" y="232.6" font-style="italic">j</tspan><tspan x="1536.3" y="217.2" font-style="italic">= 0.001</tspan><tspan x="1638.9" y="217.2">)</tspan></text>
<text font-size="30" fill="#000"><tspan x="1348.5" y="369.9">(</tspan><tspan x="1360.2" y="369.9" font-style="italic">d</tspan><tspan x="1378.4" y="384.4" font-style="italic" letter-spacing="1.5">ij</tspan><tspan x="1400.4" y="369.9">= - 0.049</tspan><tspan x="1522.3" y="369.9">)</tspan></text>
<text font-size="30" fill="#000"><tspan x="1244.7" y="489.6">(</tspan><tspan x="1256.3" y="489.6" font-style="italic">d</tspan><tspan x="1273.4" y="504.2" font-style="italic" letter-spacing="1.5">ij</tspan><tspan x="1296.6" y="489.6">= -0.0006</tspan><tspan x="1426.4" y="489.6">)</tspan></text>
<text font-size="30" fill="#e8060e"><tspan x="1456.0" y="487.4">(</tspan><tspan x="1468.3" y="487.4" font-style="italic">d</tspan><tspan x="1486.1" y="501.6" font-style="italic" letter-spacing="1.5">ij</tspan><tspan x="1513.7" y="487.4">= - 0.049</tspan><tspan x="1635.3" y="487.4">)</tspan></text>
<line x1="1357.3" y1="65.2" x2="1311.1" y2="118.0" stroke="#231f20" stroke-width="4.5"/>
<path d="M1293.3 138.3L1305.8 100.7L1312.4 116.5L1328.9 121.0Z" fill="#231f20"/>
<line x1="1503.3" y1="65.2" x2="1549.9" y2="118.1" stroke="#231f20" stroke-width="4.5"/>
<path d="M1567.8 138.3L1532.1 121.1L1548.6 116.6L1555.2 100.7Z" fill="#231f20"/>
<line x1="1307.5" y1="243.0" x2="1353.9" y2="295.8" stroke="#231f20" stroke-width="4.5"/>
<path d="M1371.7 316.1L1336.0 298.8L1352.6 294.3L1359.2 278.5Z" fill="#231f20"/>
<line x1="1556.2" y1="243.0" x2="1509.3" y2="295.9" stroke="#231f20" stroke-width="4.5"/>
<path d="M1491.4 316.1L1504.1 278.6L1510.6 294.4L1527.1 299.0Z" fill="#231f20"/>
<text x="1337.3" y="446.9" font-size="30" fill="#000" text-anchor="middle" >expected</text>
<text x="1533.5" y="446.9" font-size="30" fill="#e8060e" text-anchor="middle" >observed</text>
<text x="1439.6" y="548.6" font-size="30" fill="#000" text-anchor="middle" >GAMER score</text>
<text x="1440.0" y="585.3" font-size="30" fill="#000" text-anchor="middle" >(-0.049) - (-0.0006) = - 0.0484</text>
</g>
<g>
<text x="1429.9" y="764.1" font-size="34.7" fill="#0a9447" font-weight="bold" text-anchor="middle" >100%</text>
<text x="1429.0" y="800.9" font-size="30" fill="#000" text-anchor="middle" >(0.115)</text>
<text x="1293.3" y="895.5" font-size="34.7" fill="#f00af0" font-weight="bold" text-anchor="middle" >90%</text>
<text x="1568.2" y="889.5" font-size="34.7" fill="#000" font-weight="bold" text-anchor="middle" >100%</text>
<text x="1433.3" y="1044.5" font-size="34.7" fill="#f00a10" font-weight="bold" text-anchor="middle" >61%</text>
<text font-size="30" fill="#000"><tspan x="1211.0" y="932.3">(</tspan><tspan x="1221.6" y="932.3" font-style="italic">d</tspan><tspan x="1245.4" y="948.6" font-style="italic">i</tspan><tspan x="1252.6" y="932.3" font-style="italic">= -0.011</tspan><tspan x="1365.4" y="932.3">)</tspan></text>
<text font-size="30" fill="#000"><tspan x="1490.0" y="927.2">(</tspan><tspan x="1500.3" y="927.2" font-style="italic">d</tspan><tspan x="1519.7" y="942.6" font-style="italic">j</tspan><tspan x="1533.5" y="927.2" font-style="italic">= 0.001</tspan><tspan x="1636.2" y="927.2">)</tspan></text>
<text font-size="30" fill="#000"><tspan x="1346.3" y="1079.9">(</tspan><tspan x="1358.0" y="1079.9" font-style="italic">d</tspan><tspan x="1376.2" y="1094.4" font-style="italic" letter-spacing="1.5">ij</tspan><tspan x="1398.2" y="1079.9">= - 0.035</tspan><tspan x="1520.1" y="1079.9">)</tspan></text>
<text font-size="30" fill="#000"><tspan x="1245.5" y="1191.1">(</tspan><tspan x="1257.0" y="1191.1" font-style="italic">d</tspan><tspan x="1274.9" y="1205.7" font-style="italic" letter-spacing="1.5">ij</tspan><tspan x="1297.3" y="1191.1">= -8.9E-5</tspan><tspan x="1424.6" y="1191.1">)</tspan></text>
<text font-size="30" fill="#e8060e"><tspan x="1447.6" y="1191.1">(</tspan><tspan x="1458.6" y="1191.1" font-style="italic">d</tspan><tspan x="1476.5" y="1205.1" font-style="italic" letter-spacing="1.5">ij</tspan><tspan x="1499.7" y="1191.1">= - 0.035</tspan><tspan x="1620.6" y="1191.1">)</tspan></text>
<line x1="1355.1" y1="776.3" x2="1308.9" y2="829.1" stroke="#231f20" stroke-width="4.5"/>
<path d="M1291.1 849.4L1303.6 811.8L1310.2 827.6L1326.7 832.1Z" fill="#231f20"/>
<line x1="1501.1" y1="776.3" x2="1547.7" y2="829.2" stroke="#231f20" stroke-width="4.5"/>
<path d="M1565.6 849.4L1529.9 832.2L1546.4 827.7L1553.0 811.8Z" fill="#231f20"/>
<line x1="1305.3" y1="953.0" x2="1351.7" y2="1005.8" stroke="#231f20" stroke-width="4.5"/>
<path d="M1369.5 1026.1L1333.8 1008.8L1350.4 1004.3L1357.0 988.5Z" fill="#231f20"/>
<line x1="1554.0" y1="953.0" x2="1507.1" y2="1005.9" stroke="#231f20" stroke-width="4.5"/>
<path d="M1489.2 1026.1L1501.9 988.6L1508.4 1004.4L1524.9 1009.0Z" fill="#231f20"/>
<text x="1335.1" y="1148.9" font-size="30" fill="#000" text-anchor="middle" >expected</text>
<text x="1531.3" y="1148.9" font-size="30" fill="#e8060e" text-anchor="middle" >observed</text>
<text x="1437.4" y="1250.6" font-size="30" fill="#000" text-anchor="middle" >GAMER score</text>
<text x="1437.8" y="1287.3" font-size="30" fill="#000" text-anchor="middle" >(-0.035) - (-8.9E-5) = - 0.0345</text>
</g>
</svg>
</body></html>
